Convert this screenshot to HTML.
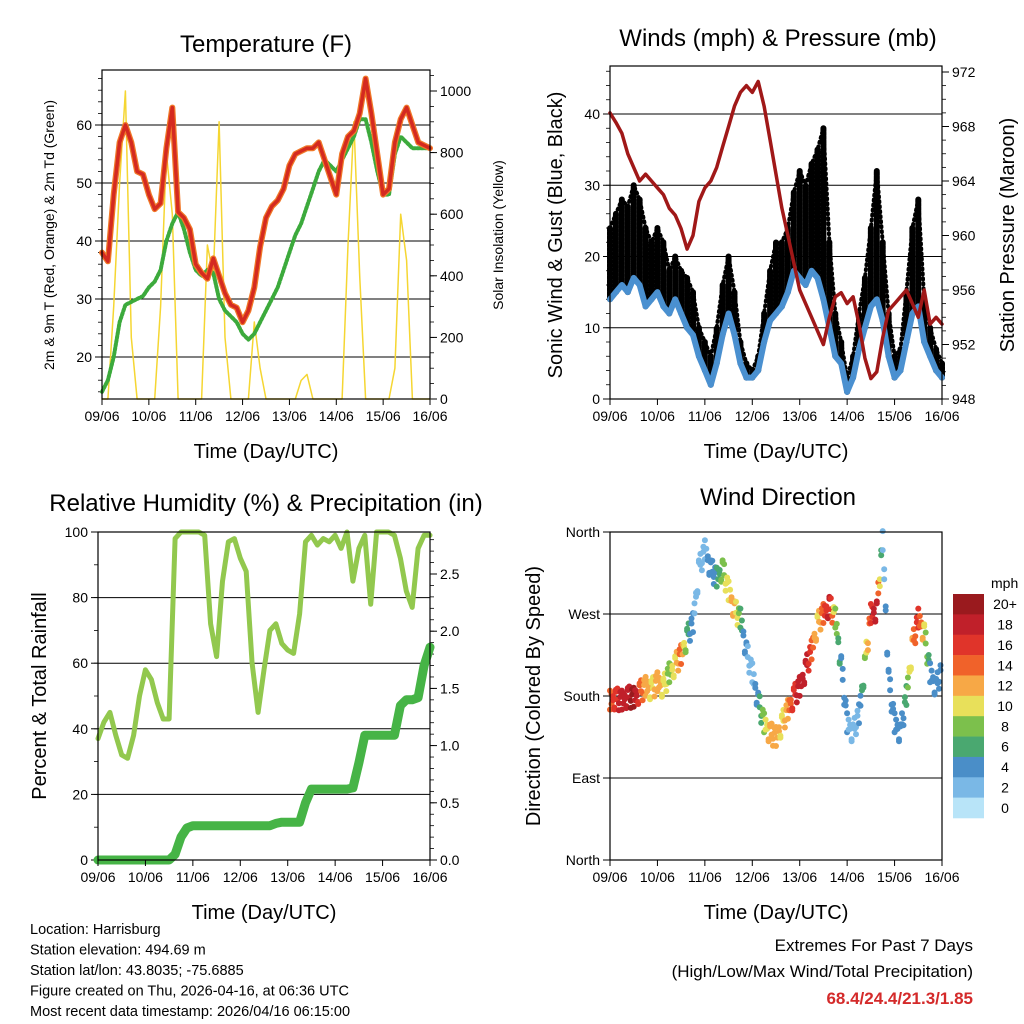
<!DOCTYPE html>
<html><head><meta charset="utf-8"><style>
body{margin:0;background:#fff;}
svg{display:block;font-family:"Liberation Sans",Arial,sans-serif;}
</style></head><body>
<svg id="chart" width="1024" height="1024" viewBox="0 0 1024 1024" xmlns="http://www.w3.org/2000/svg">
<rect width="1024" height="1024" fill="#fff"/>
<g id="layer"></g>
</svg>
<script>
// ---------- DATA (3-hourly, 09/06 00 UTC to 16/06 00 UTC) ----------
const dayLabels = ["09/06","10/06","11/06","12/06","13/06","14/06","15/06","16/06"];
const tempRed = [38,36.5,48,57,60,57,52,51.5,48,45.5,46.5,56,63,45,44,42,36,34.5,33.5,37,34,31,29,28.5,26,28,32,39,44,46,47,49,53,55,55.5,56,56,57,54,51,48,55,58,59,62,68,62,55,48,49,57,61,63,60,57,56.5,56];
const tempDew = [14,16,20,26,29,29.5,30,30.5,32,33,35,40,43,45,42,38,35,34,35,34.5,30,28,27,26,24,23,24,26,28,30,32,35,38,41,43,46,49,52,54,53,52,54,56,58,61,61,57,52,48,48,55,58,57,56,56,56,56];
const solar = [0,0,300,700,1000,200,0,0,0,0,300,800,600,0,0,0,0,0,500,400,900,200,0,0,0,0,250,100,0,0,0,0,0,0,60,80,0,0,0,0,0,0,500,900,400,0,0,0,0,0,100,600,450,0,0,0,0];
const windSpd = [14,15,16,15,17,16,13,14,15,13,12,14,12,10,9,6,4,2,5,9,12,9,5,3,3,4,8,11,12,13,15,18,17,16,18,17,14,10,6,5,1,3,7,10,13,14,11,6,3,4,8,12,13,8,6,4,3];
const windGust = [24,26,28,27,30,28,24,22,24,22,18,20,18,17,15,10,8,6,10,16,20,15,8,5,4,6,12,18,22,22,24,29,32,30,33,35,38,22,12,8,3,6,12,17,24,32,22,12,6,7,15,24,28,14,10,7,5];
const pressure = [969,968.3,967.5,966,965,964,964.5,964,963.5,963,962,961.5,960.5,959,960,962.5,963.5,964,965,966.5,968,969.5,970.5,971,970.5,971.3,969.5,967,964.5,962,960,958,956,955,954,953,952,954,955.5,955.8,955,955.5,953.5,951,949.5,950,952.5,954.5,955,955.5,956,955,954,956,953.5,954,953.5];
const rh = [37,42,45,38,32,31,38,50,58,55,48,43,43,98,100,100,100,100,99,72,62,85,97,98,92,88,60,45,58,70,72,66,64,63,75,97,99,96,98,97,99,95,100,85,95,99,78,100,100,100,99,92,82,77,95,99,99];
const precip = [0,0,0,0,0,0,0,0,0,0,0,0,0,0.05,0.2,0.28,0.3,0.3,0.3,0.3,0.3,0.3,0.3,0.3,0.3,0.3,0.3,0.3,0.3,0.3,0.32,0.33,0.33,0.33,0.33,0.5,0.62,0.62,0.62,0.62,0.62,0.62,0.62,0.63,0.85,1.09,1.09,1.09,1.09,1.09,1.09,1.35,1.4,1.4,1.42,1.7,1.86];
const windDir = [175,178,175,180,178,185,190,188,195,190,205,215,225,245,260,320,340,320,310,320,295,275,265,230,205,175,150,140,135,150,165,180,190,210,230,260,270,280,265,215,150,140,160,215,270,275,350,200,150,140,180,235,265,250,205,190,210];
const dirSpd = [14,16,18,18,20,14,12,10,12,10,8,10,14,6,3,2,2,4,5,8,10,12,6,3,2,4,8,12,12,10,12,16,18,18,14,10,14,18,8,4,3,2,3,8,16,18,2,4,3,3,6,12,16,10,4,3,3];
const speedLevels = ["0","2","4","6","8","10","12","14","16","18","20+"];
const speedColors = ["#b8e4f8","#7ab8e6","#4a8ec8","#4aa870","#7cc04c","#e8e05a","#f7a846","#f0622a","#e0342a","#c0202a","#9a1a1e"];
const extremes = "68.4/24.4/21.3/1.85";

const NS="http://www.w3.org/2000/svg";
const layer=document.getElementById('layer');
function el(tag,attrs,parent){const e=document.createElementNS(NS,tag);for(const k in attrs)e.setAttribute(k,attrs[k]);(parent||layer).appendChild(e);return e;}
function txt(s,x,y,size,anchor,parent,extra){const t=el('text',Object.assign({x:x,y:y,'font-size':size,'text-anchor':anchor||'middle',fill:'#000'},extra||{}),parent);t.textContent=s;return t;}
function lin(d0,d1,p0,p1){return v=>p0+(v-d0)*(p1-p0)/(d1-d0);}
const N=tempRed.length;

function panel(name){
  const g=el('g',{});
  
  
  return g;
}
function frame(g,x0,x1,y0,y1){el('rect',{x:x0,y:y0,width:x1-x0,height:y1-y0,fill:'none',stroke:'#000','stroke-width':1.2},g);}
function xAxis(g,x0,x1,y1){
  const xs=lin(0,7,x0,x1);
  const ax=el('g',{},g);
  
  
  dayLabels.forEach((d,i)=>{const x=xs(i);
    el('line',{x1:x,x2:x,y1:y1,y2:y1+6,stroke:'#000','stroke-width':1},ax);
    const t=txt(d,x,y1+22,14,'middle',ax);
    
    
  });
  const t=txt("Time (Day/UTC)",(x0+x1)/2,y1+59,20,'middle',ax);
  
  
}
function yTicks(g,ys,vals,labels,x,side,grid,x0,x1,minorStep,lo,hi){
  const ax=el('g',{},g);
  
  
  if(minorStep){for(let v=lo;v<=hi+1e-9;v+=minorStep){const y=ys(v);el('line',{x1:x,x2:side==='l'?x-4:x+4,y1:y,y2:y,stroke:'#000','stroke-width':0.8},ax);}}
  vals.forEach((v,i)=>{const y=ys(v);
    el('line',{x1:x,x2:side==='l'?x-7:x+7,y1:y,y2:y,stroke:'#000','stroke-width':1},ax);
    if(grid) el('line',{x1:x0,x2:x1,y1:y,y2:y,stroke:'#000','stroke-width':1},ax);
    const t=txt(labels[i],side==='l'?x-10:x+10,y+5,14,side==='l'?'end':'start',ax);
    
    
  });
}
function vtitle(g,s,x,y,size,name){const t=txt(s,x,y,size,'middle',g,{transform:`rotate(-90 ${x} ${y})`});}
function path(g,xs,ys,arr,attrs,name){
  const d=arr.map((v,i)=>(i?'L':'M')+xs(i).toFixed(1)+','+ys(v).toFixed(1)).join('');
  const p=el('path',Object.assign({d:d,fill:'none','stroke-linejoin':'round','stroke-linecap':'round'},attrs),g);
  
  
  return p;
}
function title(g,s,x,y){const t=txt(s,x,y,24,'middle',g);}

// ---------- Panel 1: Temperature ----------
(function(){
  const x0=102,x1=430,y0=70,y1=399;
  const g=panel('temperature-panel');
  const xs=i=>x0+i*(x1-x0)/(N-1);
  const yT=lin(20,60,357,125);
  const yS=lin(0,1000,399,91);
  title(g,"Temperature (F)",266,52);
  yTicks(g,yT,[20,30,40,50,60],["20","30","40","50","60"],x0,'l',true,x0,x1,2,14,68);
  yTicks(g,yS,[0,200,400,600,800,1000],["0","200","400","600","800","1000"],x1,'r',false,0,0,50,0,1050);
  path(g,xs,yS,solar,{stroke:'#f5d632','stroke-width':1.5},'solar-insolation-line');
  path(g,xs,yT,tempDew,{stroke:'#3caa3c','stroke-width':4,'stroke-dasharray':'2 2'},'dewpoint-line');
  path(g,xs,yT,tempRed,{stroke:'#f07828','stroke-width':6},'temp-9m-line');
  path(g,xs,yT,tempRed,{stroke:'#d42a20','stroke-width':3.5},'temp-2m-line');
  frame(g,x0,x1,y0,y1);
  xAxis(g,x0,x1,y1);
  vtitle(g,"2m & 9m T (Red, Orange) & 2m Td (Green)",54,235,14,'y-axis-title-left');
  vtitle(g,"Solar Insolation (Yellow)",503,235,14,'y-axis-title-right');
})();

// ---------- Panel 2: Winds & Pressure ----------
(function(){
  const x0=610,x1=942,y0=66,y1=399;
  const g=panel('winds-pressure-panel');
  const xs=i=>x0+i*(x1-x0)/(N-1);
  const yW=lin(0,40,399,114);
  const yP=lin(948,972,399,72);
  title(g,"Winds (mph) & Pressure (mb)",778,46);
  yTicks(g,yW,[0,10,20,30,40],["0","10","20","30","40"],x0,'l',true,x0,x1,2,0,46);
  yTicks(g,yP,[948,952,956,960,964,968,972],["948","952","956","960","964","968","972"],x1,'r',false,0,0,1,948,972);
  const gb=el('g',{},g);
  
  
  windGust.forEach((v,i)=>{
    const l=el('line',{x1:xs(i),x2:xs(i),y1:yW(windSpd[i]),y2:yW(v),stroke:'#000','stroke-width':6,'stroke-linecap':'round','stroke-dasharray':'3 1'},gb);
    
    
  });
  path(g,xs,yW,windGust,{stroke:'#000','stroke-width':4,'stroke-dasharray':'1 4'},'gust-line');
  path(g,xs,yW,windSpd,{stroke:'#4a90d0','stroke-width':6},'wind-speed-line');
  path(g,xs,yP,pressure,{stroke:'#a01818','stroke-width':3.5},'pressure-line');
  frame(g,x0,x1,y0,y1);
  xAxis(g,x0,x1,y1);
  vtitle(g,"Sonic Wind & Gust (Blue, Black)",562,235,20,'y-axis-title-left');
  vtitle(g,"Station Pressure (Maroon)",1014,235,20,'y-axis-title-right');
})();

// ---------- Panel 3: RH & Precip ----------
(function(){
  const x0=98,x1=430,y0=532,y1=860;
  const g=panel('humidity-precip-panel');
  const xs=i=>x0+i*(x1-x0)/(N-1);
  const yR=lin(0,100,860,532);
  const yPr=lin(0,2.5,860,574);
  title(g,"Relative Humidity (%) & Precipitation (in)",266,511);
  yTicks(g,yR,[0,20,40,60,80,100],["0","20","40","60","80","100"],x0,'l',true,x0,x1,10,0,100);
  yTicks(g,yPr,[0,0.5,1,1.5,2,2.5],["0.0","0.5","1.0","1.5","2.0","2.5"],x1,'r',false,0,0,0.1,0,2.8);
  path(g,xs,yR,rh,{stroke:'#92c84e','stroke-width':5},'humidity-line');
  path(g,xs,yPr,precip,{stroke:'#46b446','stroke-width':9},'precip-line');
  frame(g,x0,x1,y0,y1);
  xAxis(g,x0,x1,y1);
  vtitle(g,"Percent & Total Rainfall",46,696,20,'y-axis-title-left');
})();

// ---------- Panel 4: Wind direction ----------
(function(){
  const x0=610,x1=942,y0=532,y1=860;
  const g=panel('wind-direction-panel');
  const xs=i=>x0+i*(x1-x0)/(N-1);
  const yD=lin(0,360,860,532);
  title(g,"Wind Direction",778,505);
  yTicks(g,yD,[0,90,180,270,360],["North","East","South","West","North"],x0,'l',false,x0,x1,0,0,0);
  [90,180,270].forEach(v=>el('line',{x1:x0,x2:x1,y1:yD(v),y2:yD(v),stroke:'#000','stroke-width':1},g));
  function col(s){let k=Math.min(10,Math.max(0,Math.round(s/2)));return speedColors[k];}
  const dg=el('g',{},g);
  
  
  const offs=[-10,4,-3,9,-6,1,11,-8];
  for(let i=0;i<N-1;i++){
    for(let k=0;k<4;k++){
      const f=k/4;
      const d=windDir[i]+(windDir[i+1]-windDir[i])*f;
      const s=dirSpd[i]+(dirSpd[i+1]-dirSpd[i])*f;
      const x=xs(i)+f*(xs(i+1)-xs(i));
      for(let j=0;j<2;j++){
        const c=el('circle',{cx:x.toFixed(1),cy:(yD(d)+offs[(i*4+k+j*3)%8]).toFixed(1),r:3,fill:col(s)},dg);
        
        
      }
    }
  }
  frame(g,x0,x1,y0,y1);
  xAxis(g,x0,x1,y1);
  vtitle(g,"Direction (Colored By Speed)",540,696,20,'y-axis-title-left');
  const cb=el('g',{},g);
  
  
  const bh=(818-594)/speedLevels.length;
  txt("mph",991,588,14,'start',cb);
  speedLevels.forEach((lab,i)=>{
    const k=speedLevels.length-1-i;
    const r=el('rect',{x:953,y:594+i*bh,width:31,height:bh+0.3,fill:speedColors[k]},cb);
    
    
    const tt=txt(speedLevels[k],1005,594+i*bh+bh/2+5,14,'middle',cb);
    
    
  });
})();

// ---------- Footer text ----------
(function(){
  const g=el('g',{});
  
  
  ["Location: Harrisburg","Station elevation: 494.69 m","Station lat/lon: 43.8035; -75.6885","Figure created on Thu, 2026-04-16, at 06:36 UTC","Most recent data timestamp: 2026/04/16 06:15:00"].forEach((s,i)=>txt(s,30,934+i*20.5,14.5,'start',g));
  const h=el('g',{});
  
  
  txt("Extremes For Past 7 Days",973,951,17,'end',h);
  txt("(High/Low/Max Wind/Total Precipitation)",973,977,17,'end',h);
  txt(extremes,973,1004,17,'end',h,{fill:'#d42a2a','font-weight':'bold'});
})();
</script>
</body></html>
